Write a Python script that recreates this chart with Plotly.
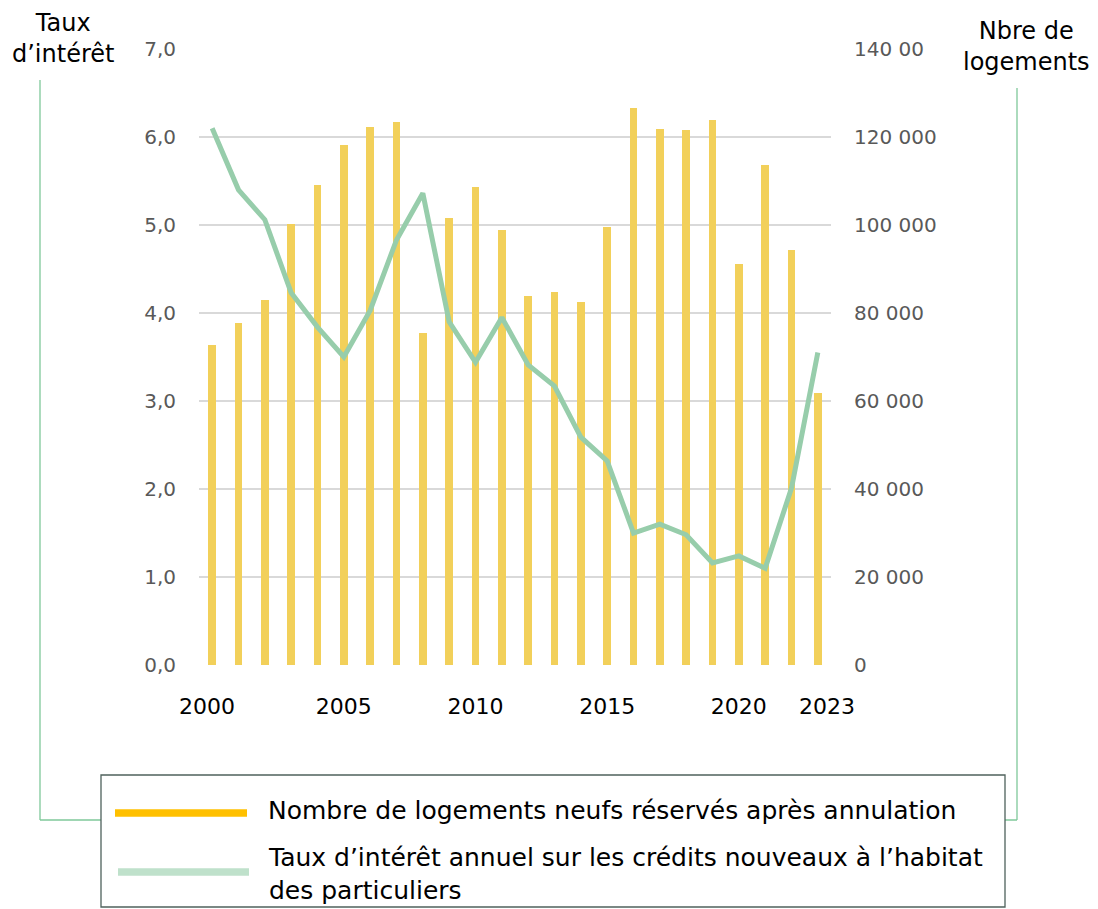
import plotly.graph_objects as go

# data
YEARS = list(range(2000, 2024))
LOGEMENTS = [72700, 77700, 82900, 100200, 109200, 118100, 122300, 123500,
             75500, 101700, 108700, 98900, 83900, 84700, 82600, 99600,
             126700, 121800, 121500, 123900, 91100, 113600, 94300, 61900]
TAUX = [6.10, 5.40, 5.06, 4.23, 3.84, 3.50, 4.03, 4.83, 5.36, 3.90, 3.44, 3.95,
        3.41, 3.17, 2.59, 2.32, 1.50, 1.60, 1.48, 1.16, 1.24, 1.10, 2.01, 3.55]

TAUX_TICKS = [0, 1, 2, 3, 4, 5, 6, 7]
TAUX_LABELS = ["0,0", "1,0", "2,0", "3,0", "4,0", "5,0", "6,0", "7,0"]
LOG_TICKS = [0, 20000, 40000, 60000, 80000, 100000, 120000, 140000]
LOG_LABELS = ["0", "20 000", "40 000", "60 000", "80 000", "100 000", "120 000", "140 00"]
YEAR_TICKS = [1999.8, 2005, 2010, 2015, 2020, 2023.35]
YEAR_LABELS = ["2000", "2005", "2010", "2015", "2020", "2023"]

LEGEND_BARS = "Nombre de logements neufs réservés après annulation"
LEGEND_LINE = "Taux d’intérêt annuel sur les crédits nouveaux à l’habitat<br>des particuliers"

FONT = "DejaVu Sans"
BAR_COLOR = "#F2D05A"
LINE_COLOR = "#97CDAB"
GRID = "#D9D9D9"
FRAME = "#7FC89A"

# page puts the figure 8px in from the top-left corner
OFF = 8
W, H = 1098 - OFF, 909 - OFF
L, R, T, B = 199 - OFF, 831 - OFF, 49 - OFF, 665 - OFF


def px(x):
    # screen x of the reference -> paper coordinate
    return (x - OFF - L) / (R - L)


def py(y):
    return (B - (y - OFF)) / (B - T)


fig = go.Figure()
fig.add_trace(go.Bar(
    x=YEARS, y=LOGEMENTS, yaxis="y", width=0.3,
    marker=dict(color=BAR_COLOR, line=dict(width=0)),
    name="Nombre de logements",
))
fig.add_trace(go.Scatter(
    x=YEARS, y=TAUX, yaxis="y2", mode="lines",
    line=dict(color=LINE_COLOR, width=5),
    name="Taux",
))

shapes = [
    # green frame around the chart
    dict(type="line", xref="paper", yref="paper", x0=px(40), x1=px(40), y0=py(80), y1=py(820),
         line=dict(color=FRAME, width=1.3)),
    dict(type="line", xref="paper", yref="paper", x0=px(40), x1=px(1017), y0=py(820), y1=py(820),
         line=dict(color=FRAME, width=1.3)),
    dict(type="line", xref="paper", yref="paper", x0=px(1017), x1=px(1017), y0=py(88), y1=py(820),
         line=dict(color=FRAME, width=1.3)),
    # legend box
    dict(type="rect", xref="paper", yref="paper", x0=px(101), x1=px(1005), y0=py(775), y1=py(907),
         fillcolor="white", line=dict(color="#4F625C", width=1.3)),
    dict(type="line", xref="paper", yref="paper", x0=px(115), x1=px(247), y0=py(813), y1=py(813),
         line=dict(color="#FFC000", width=7.5)),
    dict(type="line", xref="paper", yref="paper", x0=px(118), x1=px(249), y0=py(872), y1=py(872),
         line=dict(color="#BFE1CB", width=7.5)),
]

annotations = [
    dict(text="Taux<br>d’intérêt", x=px(63), y=py(38), xref="paper", yref="paper",
         showarrow=False, xanchor="center", yanchor="middle", align="center",
         font=dict(family=FONT, size=24, color="black")),
    dict(text="Nbre de<br>logements", x=px(1026), y=py(47), xref="paper", yref="paper",
         showarrow=False, xanchor="center", yanchor="middle", align="center",
         font=dict(family=FONT, size=24, color="black")),
    dict(text=LEGEND_BARS, x=px(266), y=py(811), xref="paper", yref="paper",
         showarrow=False, xanchor="left", yanchor="middle", align="left",
         font=dict(family=FONT, size=25, color="black")),
    dict(text=LEGEND_LINE, x=px(266), y=py(874), xref="paper", yref="paper",
         showarrow=False, xanchor="left", yanchor="middle", align="left",
         font=dict(family=FONT, size=25, color="black")),
]

fig.update_layout(
    width=W, height=H,
    margin=dict(l=L, r=W - R, t=T, b=H - B, pad=0),
    paper_bgcolor="white", plot_bgcolor="white",
    showlegend=False,
    bargap=0,
    xaxis=dict(range=[1999.5, 2023.5], tickvals=YEAR_TICKS, ticktext=YEAR_LABELS,
               showgrid=False, zeroline=False, showline=False, ticks="",
               ticklabelstandoff=26,
               tickfont=dict(family=FONT, size=22, color="black")),
    yaxis=dict(range=[0, 140000], side="right", tickvals=LOG_TICKS, ticktext=LOG_LABELS,
               showgrid=True, gridcolor=GRID, gridwidth=2, zeroline=False, showline=False,
               ticks="", ticklabelstandoff=22,
               tickfont=dict(family=FONT, size=20, color="#595959")),
    yaxis2=dict(range=[0, 7], side="left", overlaying="y", tickvals=TAUX_TICKS, ticktext=TAUX_LABELS,
                showgrid=False, zeroline=False, showline=False, ticks="", ticklabelstandoff=22,
                tickfont=dict(family=FONT, size=20, color="#595959")),
    shapes=shapes,
    annotations=annotations,
)

fig.write_html("out.html")
